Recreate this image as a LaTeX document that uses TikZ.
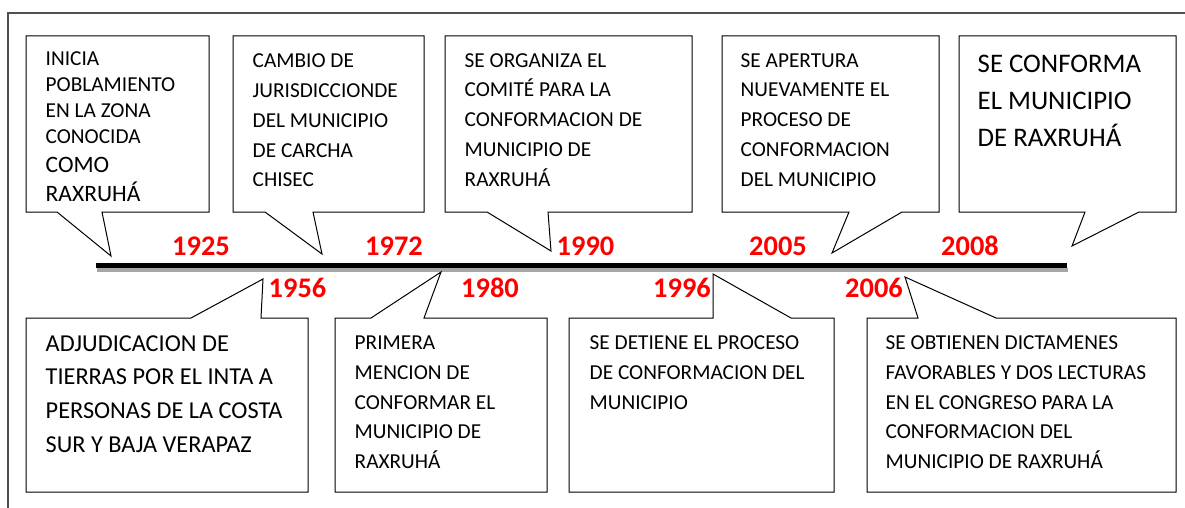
\documentclass[tikz,border=0pt]{standalone}
\usepackage{fontspec}
\setmainfont{Carlito}
\definecolor{framegray}{RGB}{80,80,80}
\definecolor{shadowgray}{RGB}{166,166,166}
\definecolor{yearred}{RGB}{255,0,0}
\begin{document}
\begin{tikzpicture}[x=1pt,y=-1pt,
  callout/.style={draw=black,line width=1pt,fill=white,line join=miter},
  txt/.style={anchor=north west,inner sep=0pt,align=left,text=black},
  fA/.style={font=\fontsize{21.3}{25.9}\selectfont},
  fB/.style={font=\fontsize{23.5}{28.4}\selectfont},
  fC/.style={font=\fontsize{21.3}{29.8}\selectfont},
  fD/.style={font=\fontsize{26.8}{36.85}\selectfont},
  fE/.style={font=\fontsize{24.3}{33.8}\selectfont},
  year/.style={anchor=base,inner sep=0pt,text=yearred,font=\fontsize{28.4}{34}\selectfont\bfseries}]
\useasboundingbox (0,0) rectangle (1185,508);
% outer frame
\draw[framegray,line width=1.3pt] (8,508) -- (8,13) -- (1185,13);
% timeline
\fill[shadowgray] (97,268) rectangle (1068,272);
\fill[black] (96,263) rectangle (1067,268);
% tips
\coordinate (t1925) at (111,256);
\coordinate (t1972) at (322,254);
\coordinate (t1990) at (551,251);
\coordinate (t2005) at (832,253);
\coordinate (t2008) at (1072,246);
\coordinate (t1956) at (263,279);
\coordinate (t1980) at (441,272);
\coordinate (t1996) at (713,274);
\coordinate (t2006) at (905,277);
% top callouts
\draw[callout] (26,36) -- (209,36) -- (209,212) -- (102,212) -- (t1925) -- (57,212) -- (26,212) -- cycle;
\draw[callout] (233,36) -- (424,36) -- (424,212) -- (313,212) -- (t1972) -- (265,212) -- (233,212) -- cycle;
\draw[callout] (445,36) -- (692,36) -- (692,212) -- (548,212) -- (t1990) -- (487,212) -- (445,212) -- cycle;
\draw[callout] (722,36) -- (939,36) -- (939,212) -- (902,212) -- (t2005) -- (849,212) -- (722,212) -- cycle;
\draw[callout] (959,36) -- (1176,36) -- (1176,212) -- (1139,212) -- (t2008) -- (1085,212) -- (959,212) -- cycle;
% bottom callouts
\draw[callout] (26,318) -- (191,318) -- (t1956) -- (261,318) -- (308,318) -- (308,492) -- (26,492) -- cycle;
\draw[callout] (335,318) -- (371,318) -- (t1980) -- (424,318) -- (547,318) -- (547,492) -- (335,492) -- cycle;
\draw[callout] (569,318) -- (713,318) -- (t1996) -- (791,318) -- (834,318) -- (834,492) -- (569,492) -- cycle;
\draw[callout] (867,318) -- (918,318) -- (t2006) -- (996,318) -- (1176,318) -- (1176,492) -- (867,492) -- cycle;
% texts top
\node[txt,fA] (x1a) at (45.5,47.6) {\strut INICIA\\POBLAMIENTO\\EN LA ZONA\\CONOCIDA};
\node[txt,fB] (x1b) at (45.5,152.8) {\strut COMO\\RAXRUHÁ};
\node[txt,fC] (x2) at (252.5,46.7) {\strut CAMBIO DE\\JURISDICCIONDE\\DEL MUNICIPIO\\DE CARCHA\\CHISEC};
\node[txt,fC] (x3) at (464.5,46) {\strut SE ORGANIZA EL\\COMITÉ PARA LA\\CONFORMACION DE\\MUNICIPIO DE\\RAXRUHÁ};
\node[txt,fC] (x4) at (740.5,46) {\strut SE APERTURA\\NUEVAMENTE EL\\PROCESO DE\\CONFORMACION\\DEL MUNICIPIO};
\node[txt,fD] (x5) at (977.5,46.5) {\strut SE CONFORMA\\EL MUNICIPIO\\DE RAXRUHÁ};
% texts bottom
\node[txt,fE] (xa) at (45.5,327.3) {\strut ADJUDICACION DE\\TIERRAS POR EL INTA A\\PERSONAS DE LA COSTA\\SUR Y BAJA VERAPAZ};
\node[txt,fC] (xb) at (354.5,328.5) {\strut PRIMERA\\MENCION DE\\CONFORMAR EL\\MUNICIPIO DE\\RAXRUHÁ};
\node[txt,fC] (xc) at (589.5,328.5) {\strut SE DETIENE EL PROCESO\\DE CONFORMACION DEL\\MUNICIPIO};
\node[txt,fC] (xd) at (885.5,328.5) {\strut SE OBTIENEN DICTAMENES\\FAVORABLES Y DOS LECTURAS\\EN EL CONGRESO PARA LA\\CONFORMACION DEL\\MUNICIPIO DE RAXRUHÁ};
% years
\node[year] (y1925) at (201,255) {1925};
\node[year] (y1972) at (394,255) {1972};
\node[year] (y1990) at (585.5,255) {1990};
\node[year] (y2005) at (778,255) {2005};
\node[year] (y2008) at (970,255) {2008};
\node[year] (y1956) at (297.5,297.5) {1956};
\node[year] (y1980) at (490,297.5) {1980};
\node[year] (y1996) at (682,297.5) {1996};
\node[year] (y2006) at (874,297.5) {2006};
\end{tikzpicture}
\end{document}
